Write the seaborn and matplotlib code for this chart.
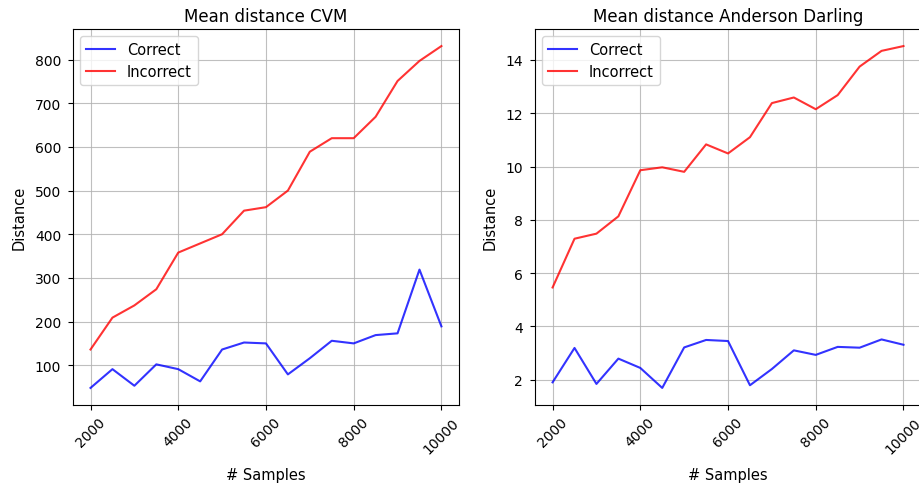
import pandas as pd
import matplotlib
matplotlib.use("Agg")
import matplotlib.pyplot as plt
import seaborn as sns

# =========================
# Data
# =========================
samples = list(range(2000, 10001, 500))

cvm_correct = [48, 91, 53, 102, 91, 63, 136, 152, 150, 79, 116, 156, 150, 169, 173, 319, 189]
cvm_incorrect = [136, 209, 237, 274, 358, 379, 400, 454, 462, 500, 589, 620, 620, 669, 751, 797, 831]

ad_correct = [1.90, 3.19, 1.84, 2.79, 2.44, 1.69, 3.21, 3.49, 3.45, 1.79, 2.40, 3.10, 2.93, 3.23, 3.20, 3.51, 3.31]
ad_incorrect = [5.46, 7.29, 7.48, 8.13, 9.86, 9.97, 9.80, 10.83, 10.49, 11.10, 12.38, 12.59, 12.15, 12.68, 13.75, 14.34, 14.52]

labels = ['Correct', 'Incorrect']
colors = {'Correct': 'blue', 'Incorrect': 'red'}


def make_df(correct, incorrect):
    return pd.DataFrame({
        'samples': samples * 2,
        'distance': correct + incorrect,
        'kind': [labels[0]] * len(samples) + [labels[1]] * len(samples),
    })


fig = plt.figure(figsize=(9.19, 4.89), dpi=100)
ax1 = fig.add_axes([0.0794, 0.1697, 0.420, 0.769])
ax2 = fig.add_axes([0.5822, 0.1697, 0.420, 0.769])

panels = [
    (ax1, make_df(cvm_correct, cvm_incorrect), 'Mean distance CVM'),
    (ax2, make_df(ad_correct, ad_incorrect), 'Mean distance Anderson Darling'),
]

for ax, df, title in panels:
    sns.lineplot(data=df, x='samples', y='distance', hue='kind',
                 palette=colors, alpha=0.8, linewidth=1.5, ax=ax)
    ax.set_title(title, fontsize=12)
    ax.set_xlabel('# Samples', fontsize=10.5, labelpad=8)
    ax.set_ylabel('Distance', fontsize=10.5, labelpad=6)
    ax.set_xticks([2000, 4000, 6000, 8000, 10000])
    ax.tick_params(axis='x', labelrotation=45)
    ax.tick_params(axis='y', pad=5)
    ax.grid(True, color='#b0b0b0', linewidth=0.8, alpha=0.8)
    ax.legend(loc='upper left', title=None, fontsize=10.5)

plt.savefig('out.png', dpi=100)
